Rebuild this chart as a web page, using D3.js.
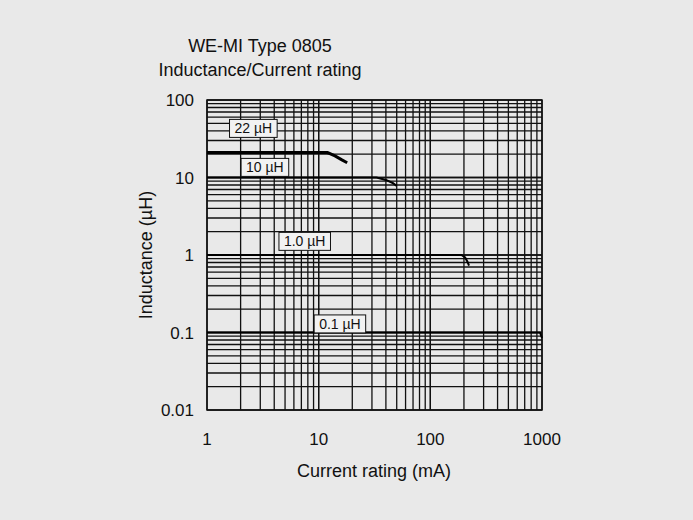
<!DOCTYPE html>
<html><head><meta charset="utf-8">
<script src="https://cdn.jsdelivr.net/npm/d3@7"></script>
<style>body{margin:0;background:#e9e9e9}text{font-family:"Liberation Sans Narrow","Liberation Sans",sans-serif;fill:#111}</style>
</head><body><svg id="c" width="693" height="520"></svg>
<script>
const xTicks = [1, 10, 100, 1000];
const yTicks = [0.01, 0.1, 1, 10, 100];
const curves = [
  { label: "22 µH", lx: 2.6, ly: 43, w: 3, pts: [[1, 21], [12, 21], [14, 19], [16, 17], [18, 15.5]] },
  { label: "10 µH", lx: 3.3, ly: 13.5, w: 2, pts: [[1, 10], [33, 10], [40, 9.3], [46, 8.5], [50, 7.8]] },
  { label: "1.0 µH", lx: 7.5, ly: 1.5, w: 2, pts: [[1, 1], [190, 1], [205, 0.93], [215, 0.82], [222, 0.73]] },
  { label: "0.1 µH", lx: 15.5, ly: 0.129, w: 2, pts: [[1, 0.1], [960, 0.1], [1000, 0.085]] }
];
const svg = d3.select("#c");
const x = d3.scaleLog().domain([1, 1000]).range([207, 542]);
const y = d3.scaleLog().domain([0.01, 100]).range([410, 100]);
const g = svg.append("g");
const minor = [];
for (let d = 1; d < 1000; d *= 10) for (let k = 1; k <= 10; k++) minor.push(d * k);
const minorY = [];
for (let d = 0.01; d < 99; d *= 10) for (let k = 1; k <= 10; k++) minorY.push(+(d * k).toPrecision(3));
g.selectAll(".vx").data(minor).enter().append("line")
  .attr("x1", d => x(d)).attr("x2", d => x(d)).attr("y1", 100).attr("y2", 410)
  .attr("stroke", "#111").attr("stroke-width", 1.3);
g.selectAll(".hy").data(minorY).enter().append("line")
  .attr("y1", d => y(d)).attr("y2", d => y(d)).attr("x1", 207).attr("x2", 542)
  .attr("stroke", "#111").attr("stroke-width", 1.3);
g.append("rect").attr("x", 207).attr("y", 100).attr("width", 335).attr("height", 310)
  .attr("fill", "none").attr("stroke", "#111").attr("stroke-width", 1.5);
svg.selectAll(".xt").data(xTicks).enter().append("text")
  .attr("x", d => x(d)).attr("y", 445).attr("text-anchor", "middle").attr("font-size", 17).text(d => d);
svg.selectAll(".yt").data(yTicks).enter().append("text")
  .attr("x", 194).attr("y", d => y(d) + 6).attr("text-anchor", "end").attr("font-size", 17).text(d => d);
const line = d3.line().x(d => x(d[0])).y(d => y(d[1]));
curves.forEach(c => {
  svg.append("path").attr("d", line(c.pts)).attr("fill", "none").attr("stroke", "#000").attr("stroke-width", c.w);
  const t = svg.append("text").attr("x", x(c.lx)).attr("y", y(c.ly) + 5).attr("text-anchor", "middle")
    .attr("font-size", 14).text(c.label);
  const b = t.node().getBBox();
  svg.insert("rect", "text:last-of-type").attr("x", b.x - 5).attr("y", b.y - 1).attr("width", b.width + 10)
    .attr("height", b.height + 2).attr("fill", "#f2f2f2").attr("stroke", "#111");
  t.raise();
});
svg.append("text").attr("x", 260).attr("y", 52).attr("text-anchor", "middle").attr("font-size", 18).text("WE-MI Type 0805");
svg.append("text").attr("x", 260).attr("y", 76).attr("text-anchor", "middle").attr("font-size", 18).text("Inductance/Current rating");
svg.append("text").attr("x", 374).attr("y", 477).attr("text-anchor", "middle").attr("font-size", 18).text("Current rating (mA)");
svg.append("text").attr("transform", "translate(152,255) rotate(-90)").attr("text-anchor", "middle").attr("font-size", 18).text("Inductance (µH)");
</script></body></html>
